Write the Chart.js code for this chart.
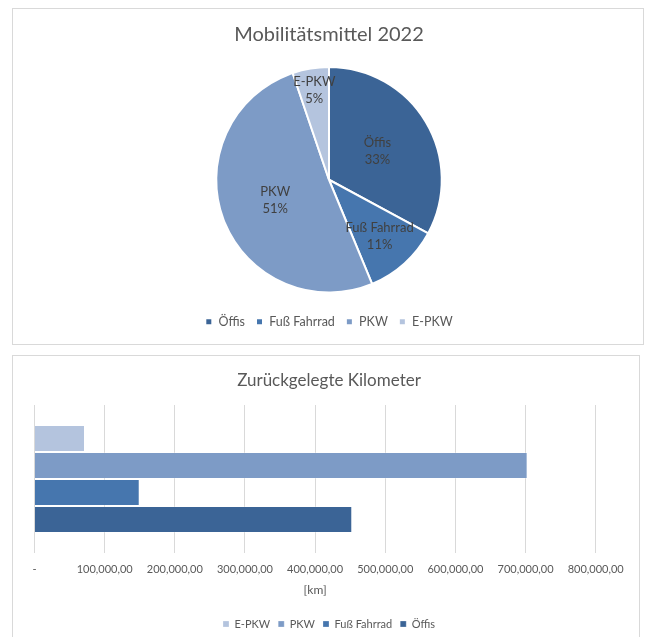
<!DOCTYPE html>
<html>
<head>
<meta charset="utf-8">
<script src="https://cdn.jsdelivr.net/npm/chart.js@4.4.1/dist/chart.umd.min.js"></script>
<style>
    html, body { margin: 0; padding: 0; background: #fff; overflow: hidden; }
    .box { position: absolute; border: 1px solid #d9d9d9; background: #fff; }
    #pieBox { left: 12px; top: 8px; width: 630px; height: 335px; }
    #barBox { left: 12px; top: 355px; width: 626px; height: 300px; }
    canvas { display: block; }
</style>
</head>
<body>
<div class="box" id="pieBox"><canvas id="pieChart" width="630" height="335"></canvas></div>
<div class="box" id="barBox"><canvas id="barChart" width="626" height="300"></canvas></div>
<script>
// data
const categories = ['Öffis', 'Fuß Fahrrad', 'PKW', 'E-PKW'];
const kilometers = [453000, 150000, 703000, 72000];
const pieTitle = 'Mobilitätsmittel 2022';
const barTitle = 'Zurückgelegte Kilometer';
const xAxisTitle = '[km]';
const xMin = 0;
const xMax = 800000;
const xStep = 100000;

// colours (Öffis, Fuß Fahrrad, PKW, E-PKW)
const sliceColors = ['#3b6496', '#4676ae', '#7d9bc6', '#b4c4de'];
const textColor = '#595959';

Chart.defaults.font.family = "Lato, 'Noto Sans', sans-serif";
Chart.defaults.color = textColor;

// labels inside the slices: name + percent
const pieLabels = {
    id: 'pieLabels',
    afterDatasetsDraw(chart, args, opts) {
        const ctx = chart.ctx;
        const meta = chart.getDatasetMeta(0);
        const values = chart.data.datasets[0].data;
        const total = values.reduce((a, b) => a + b, 0);
        ctx.save();
        ctx.font = opts.fontSize + 'px ' + Chart.defaults.font.family;
        ctx.fillStyle = opts.color;
        ctx.textAlign = 'center';
        ctx.textBaseline = 'middle';
        meta.data.forEach((arc, i) => {
            const p = arc.getProps(['x', 'y', 'startAngle', 'endAngle', 'outerRadius'], true);
            const mid = (p.startAngle + p.endAngle) / 2;
            const r = p.outerRadius * opts.radius[i];
            const cx = p.x + Math.cos(mid) * r;
            const cy = p.y + Math.sin(mid) * r;
            ctx.fillText(chart.data.labels[i], cx, cy - opts.gap / 2);
            ctx.fillText(Math.round(values[i] / total * 100) + '%', cx, cy + opts.gap / 2);
        });
        ctx.restore();
    }
};

new Chart(document.getElementById('pieChart'), {
    type: 'pie',
    data: {
        labels: categories,
        datasets: [{
            data: kilometers,
            backgroundColor: sliceColors,
            borderColor: '#ffffff',
            borderWidth: 2
        }]
    },
    options: {
        responsive: false,
        animation: false,
        layout: { padding: { top: 0, bottom: 6, left: 2 } },
        plugins: {
            title: {
                display: true,
                text: pieTitle,
                color: textColor,
                font: { size: 20, weight: 'normal' },
                padding: { top: 14, bottom: 19 }
            },
            legend: {
                position: 'bottom',
                // empty title only used as a spacer above the items
                title: { display: true, text: '', font: { size: 1 }, padding: { top: 9.8, bottom: 0 } },
                labels: {
                    color: textColor,
                    font: { size: 12.5 },
                    boxWidth: 7,
                    boxHeight: 7,
                    padding: 11
                }
            },
            tooltip: { enabled: false },
            pieLabels: {
                fontSize: 13,
                color: '#404040',
                gap: 17,
                radius: [0.5, 0.67, 0.51, 0.8]
            }
        }
    },
    plugins: [pieLabels]
});

// bar chart: one row, one dataset per category, E-PKW on top
const barOrder = [3, 2, 1, 0];

const hiddenAxis = (pos, width) => ({
    position: pos,
    display: true,
    ticks: { display: false },
    grid: { display: false },
    border: { display: false },
    afterFit: s => { s.width = width; }
});

new Chart(document.getElementById('barChart'), {
    type: 'bar',
    data: {
        labels: [''],
        datasets: barOrder.map(i => ({
            label: categories[i],
            data: [kilometers[i]],
            backgroundColor: sliceColors[i],
            borderColor: 'rgba(255,255,255,0.25)',
            borderWidth: 1,
            barPercentage: 1,
            categoryPercentage: 0.73
        }))
    },
    options: {
        indexAxis: 'y',
        responsive: false,
        animation: false,
        layout: { padding: { left: 6, right: 0, top: 0, bottom: 16.5 } },
        scales: {
            x: {
                min: xMin,
                max: xMax,
                border: { display: false },
                grid: { color: '#d9d9d9', drawTicks: false },
                ticks: {
                    stepSize: xStep,
                    padding: 10,
                    color: textColor,
                    font: { size: 11 },
                    maxRotation: 0,
                    callback: v => v === 0 ? '-' : v.toLocaleString('en-US') + ',00'
                },
                title: {
                    display: true,
                    text: xAxisTitle,
                    color: textColor,
                    font: { size: 12 },
                    padding: { top: -3.7, bottom: 13.6 }
                }
            },
            y: hiddenAxis('left', 15.5),
            yRight: Object.assign({ type: 'category', labels: [''] }, hiddenAxis('right', 43.3))
        },
        plugins: {
            title: {
                display: true,
                text: barTitle,
                color: textColor,
                font: { size: 17, weight: 'normal' },
                padding: { top: 14.4, bottom: 14.2 }
            },
            legend: {
                position: 'bottom',
                labels: {
                    color: textColor,
                    font: { size: 11 },
                    boxWidth: 6,
                    boxHeight: 6,
                    padding: 8
                }
            },
            tooltip: { enabled: false }
        }
    }
});
</script>
</body>
</html>
